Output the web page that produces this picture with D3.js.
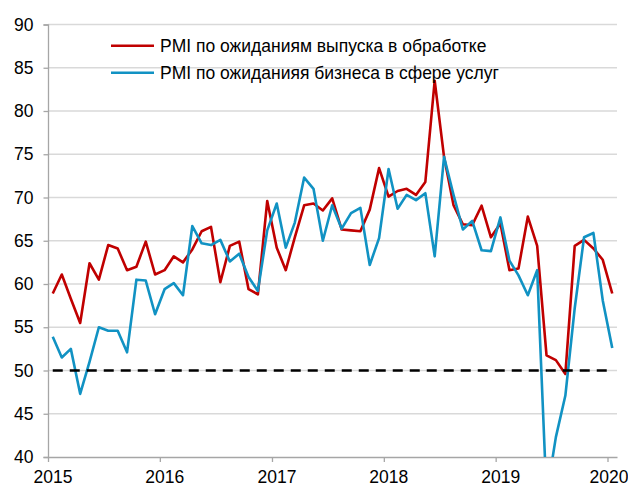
<!DOCTYPE html>
<html>
<head>
<meta charset="utf-8">
<script src="https://cdn.jsdelivr.net/npm/d3@7"></script>
<style>
  body { margin: 0; background: #fff; }
  svg text { font-family: "Liberation Sans", Arial, sans-serif; fill: #000; }
</style>
</head>
<body>
<script>
// monthly, Jan 2015 .. Jan 2020
const months = d3.timeMonth.range(new Date(2015, 0, 1), new Date(2020, 1, 1))

const manufOutput = [
  58.9, 61.1, 58.3, 55.5, 62.4, 60.5, 64.5, 64.1, 61.6, 62.0, 64.9, 61.1,
  61.6, 63.2, 62.5, 64.0, 66.1, 66.6, 60.2, 64.4, 64.9, 59.4, 58.8, 69.6,
  64.2, 61.6, 65.4, 69.1, 69.3, 68.5, 69.9, 66.3, 66.2, 66.1, 68.6, 73.4,
  70.1, 70.75, 71.0, 70.3, 71.8, 83.5, 74.7, 69.1, 66.9, 66.8, 69.05, 65.4,
  67.0, 61.6, 61.8, 67.8, 64.4, 51.75, 51.2, 49.6, 64.4, 65.1, 64.1, 62.8,
  58.9
]
const servicesBusiness = [
  53.9, 51.5, 52.5, 47.3, 51.0, 55.0, 54.6, 54.6, 52.1, 60.5, 60.4, 56.5,
  59.4, 60.1, 58.7, 66.7, 64.7, 64.5, 65.1, 62.6, 63.5, 60.8, 59.2, 66.2,
  69.3, 64.2, 67.1, 72.3, 71.0, 65.0, 69.1, 66.4, 68.2, 68.8, 62.2, 65.3,
  73.3, 68.7, 70.3, 69.7, 70.5, 63.2, 74.7, 70.3, 66.3, 67.3, 63.9, 63.8,
  67.7, 62.7, 61.0, 58.7, 61.6, 35.5, 42.3, 47.1, 57.2, 65.4, 65.9, 58.1,
  52.6
]
const threshold = 50
const yTicks = [40, 45, 50, 55, 60, 65, 70, 75, 80, 85, 90]
const seriesNames = [
  "PMI по ожиданиям выпуска в обработке",
  "PMI по ожиданияя бизнеса в сфере услуг"
]
const colors = ["#c00000", "#1192c3"]

const w = 628, h = 487
const mLeft = 48, mRight = 617, mTop = 24.5, mBottom = 457

const svg = d3.select("body").append("svg")
  .attr("width", w).attr("height", h)

const x = d3.scaleTime()
  .domain([new Date(2015, 0, 1), new Date(2020, 1, 1)])
  .range([mLeft, mRight])
const y = d3.scaleLinear().domain([40, 90]).range([mBottom, mTop])

// center of each month
const mid = d => new Date(d.getTime() + (d3.timeMonth.offset(d, 1) - d) / 2)

svg.append("defs").append("clipPath").attr("id", "plot")
  .append("rect").attr("x", mLeft).attr("y", mTop - 2)
  .attr("width", mRight - mLeft).attr("height", mBottom - mTop + 2)

// gridlines
svg.append("g").selectAll("line")
  .data(yTicks.filter(t => t > 40)).enter().append("line")
    .attr("x1", mLeft).attr("x2", mRight)
    .attr("y1", d => y(d)).attr("y2", d => y(d))
    .attr("stroke", "#d9d9d9").attr("stroke-width", 1.3)

// y axis
const yAxis = svg.append("g")
  .attr("transform", `translate(${mLeft},0)`)
  .call(d3.axisLeft(y).tickValues(yTicks).tickSize(4.5).tickPadding(10))
yAxis.select(".domain").attr("stroke", "#a6a6a6").attr("stroke-width", 1.3)
yAxis.selectAll(".tick line").attr("stroke", "#a6a6a6").attr("stroke-width", 1.3)
yAxis.selectAll("text").attr("font-size", "17.5px").attr("fill", "#000")
  .attr("font-family", "Liberation Sans, Arial, sans-serif")

// x axis
const xAxis = svg.append("g")
  .attr("transform", `translate(0,${mBottom})`)
  .call(d3.axisBottom(x).ticks(d3.timeYear.every(1)).tickFormat(d3.timeFormat("%Y"))
    .tickSize(5).tickSizeOuter(0).tickPadding(9))
xAxis.select(".domain").attr("stroke", "#a6a6a6").attr("stroke-width", 1.3)
xAxis.selectAll(".tick line").attr("stroke", "#a6a6a6").attr("stroke-width", 1.3)
xAxis.selectAll("text").attr("font-size", "17.5px").attr("fill", "#000")
  .attr("x", (d, i, n) => i === n.length - 1 ? 1 : 4.5)
  .attr("font-family", "Liberation Sans, Arial, sans-serif")

const line = d3.line()
  .x((d, i) => x(mid(months[i])))
  .y(d => y(d))

const plot = svg.append("g").attr("clip-path", "url(#plot)")

plot.selectAll("path.series")
  .data([manufOutput, servicesBusiness]).enter().append("path")
    .attr("class", "series")
    .attr("d", line)
    .attr("fill", "none")
    .attr("stroke", (d, i) => colors[i])
    .attr("stroke-width", 2.6)
    .attr("stroke-linejoin", "round")

plot.append("path")
  .attr("d", line(months.map(() => threshold)))
  .attr("fill", "none")
  .attr("stroke", "#000")
  .attr("stroke-width", 2.4)
  .attr("stroke-dasharray", "10,7")

// legend
const legend = svg.append("g")
legend.selectAll("g").data(seriesNames).enter().append("g")
  .attr("transform", (d, i) => `translate(111,${45.7 + i * 27})`)
  .each(function(d, i) {
    const g = d3.select(this)
    g.append("line").attr("x1", 0).attr("x2", 43)
      .attr("stroke", colors[i]).attr("stroke-width", 2.6)
    g.append("text").attr("x", 49).attr("dy", "0.35em")
      .attr("font-size", "17.5px").text(d)
  })
</script>
</body>
</html>
